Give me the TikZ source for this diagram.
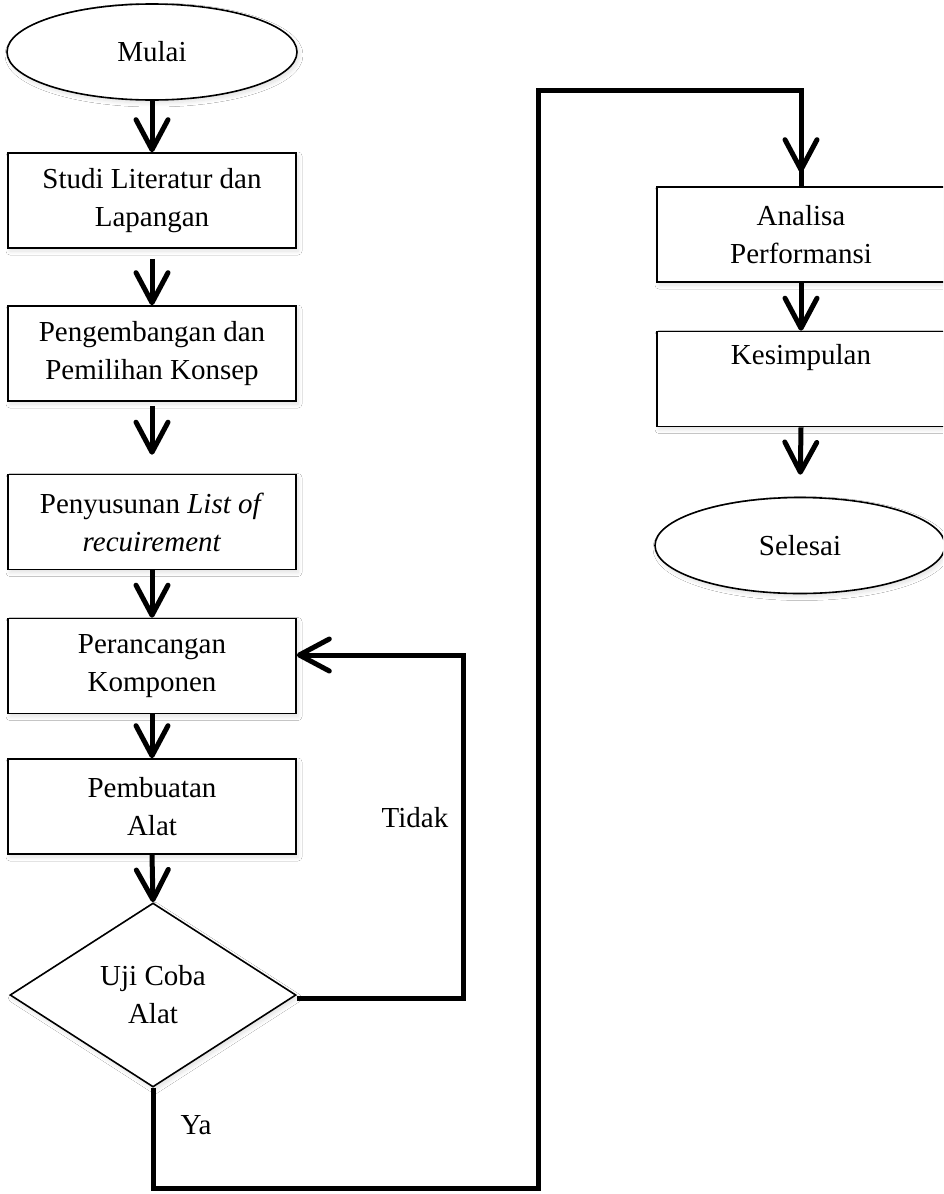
\documentclass[tikz,border=0pt]{standalone}
\usepackage{fontspec}
\setmainfont{Liberation Serif}
\usetikzlibrary{shapes.geometric,arrows.meta,shadows.blur}
\begin{document}
\begin{tikzpicture}[x=1pt,y=-1pt,
  font=\fontsize{29}{38}\selectfont,
  boxshadow/.style={blur shadow={shadow xshift=2pt,shadow yshift=-3pt,shadow opacity=12,shadow blur steps=8,shadow blur radius=4pt}},
  procbox/.style={draw,line width=1.6pt,fill=white,rectangle,minimum width=288pt,minimum height=95pt,align=center,inner sep=2pt,boxshadow},
  termnode/.style={draw,line width=1.6pt,fill=white,ellipse,minimum width=290pt,minimum height=96pt,inner sep=0pt,boxshadow},
  decnode/.style={draw,line width=1.6pt,fill=white,diamond,aspect=1.55,minimum width=286pt,minimum height=184pt,inner sep=0pt,align=center,boxshadow},
  flow/.style={line width=5pt,-{Straight Barb[length=30pt,width=32pt,line cap=round,line join=round]}},
  plainflow/.style={line width=5pt,line join=miter}
]
\useasboundingbox (0,0) rectangle (943,1194);
\clip (0,0) rectangle (943,1194);
\fill[white] (0,0) rectangle (943,1194);

\node[termnode] (mulai) at (152,52) {Mulai};
\node[procbox] (b1) at (152,200.5) {Studi Literatur dan\\Lapangan};
\node[procbox] (b2) at (152,353.5) {Pengembangan dan\\Pemilihan Konsep};
\node[procbox] (b3) at (152,522) {Penyusunan \textit{List of}\\\textit{recuirement}};
\node[procbox] (b4) at (152,666) {Perancangan\\Komponen};
\node[procbox] (b5) at (152,806.5) {Pembuatan\\Alat};
\node[decnode] (dia) at (153,995) {Uji Coba\\Alat};

\node[procbox] (a1) at (801,234.5) {Analisa\\Performansi};
\node[procbox] (a2) at (801,379) {Kesimpulan\\\strut};
\node[termnode] (selesai) at (800,545.5) {Selesai};

\draw[flow] (mulai.south) -- (b1.north);
\draw[flow,shorten <=10pt] (b1.south) -- (b2.north);
\draw[flow,shorten <=4pt,shorten >=19pt] (b2.south) -- (b3.north);
\draw[flow] (b3.south) -- (b4.north);
\draw[flow] (b4.south) -- (b5.north);
\draw[flow] (b5.south) -- (dia.north);

\coordinate (tidakturn) at (463,998);
\draw[flow] (dia.east |- tidakturn) -- (tidakturn) |- ([yshift=11pt]b4.east);
\node (tidak) at (415,818) {Tidak};

\coordinate (yabottom) at (538,1188);
\coordinate (yatop) at (538,90);
\draw[plainflow] (dia.south) |- (yabottom) -- (yatop) -| (a1.north);
\draw[flow,shorten >=14pt] (801,88) -- (a1.north);
\node (ya) at (196,1125) {Ya};

\draw[flow] (a1.south) -- (a2.north);
\draw[flow,shorten >=22pt] (a2.south) -- (selesai.north);
\end{tikzpicture}
\end{document}
